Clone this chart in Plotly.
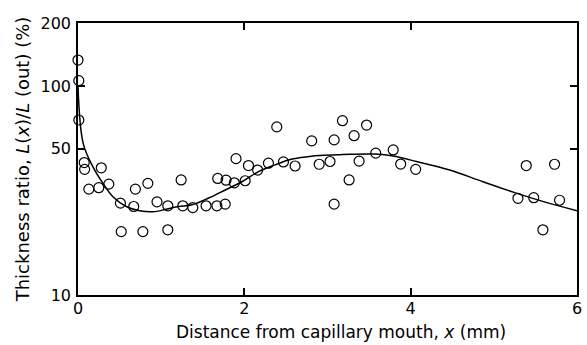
import plotly.graph_objects as go

# Measured points (x in mm, thickness ratio in %)
pts_x = [0.0, 0.01, 0.01, -0.01, 0.075, 0.08, 0.13, 0.25, 0.28, 0.37, 0.51, 0.52,
         0.67, 0.69, 0.78, 0.84, 0.95, 1.08, 1.08, 1.24, 1.26, 1.38, 1.54, 1.67,
         1.77, 1.68, 1.78, 1.88, 1.90, 2.01, 2.05, 2.16, 2.29, 2.39, 2.47, 2.61,
         2.81, 2.90, 3.03, 3.08, 3.08, 3.18, 3.26, 3.32, 3.38, 3.47, 3.58, 3.79,
         3.88, 4.06, 5.29, 5.39, 5.48, 5.59, 5.73, 5.79]
pts_y = [133, 106, 68.7, 60.4, 43.0, 39.9, 32.1, 32.6, 40.6, 33.9, 27.5, 20.1,
         26.5, 32.1, 20.1, 34.2, 27.9, 26.7, 20.5, 35.5, 26.7, 26.2, 26.7, 26.7,
         27.2, 36.1, 35.4, 34.4, 44.9, 35.2, 41.6, 39.6, 42.7, 63.7, 43.3, 41.4,
         54.6, 42.2, 43.5, 55.2, 27.2, 68.2, 35.5, 57.8, 43.7, 65.0, 47.7, 49.4,
         42.3, 39.9, 29.0, 41.6, 29.2, 20.5, 42.2, 28.4]

# Fitted curve
fit_x = [0.0, 0.063, 0.18, 0.30, 0.42, 0.58, 0.74, 0.90, 1.06, 1.21, 1.37, 1.57,
         1.77, 1.97, 2.17, 2.37, 2.56, 2.76, 2.96, 3.12, 3.28, 3.58, 3.79, 4.07,
         4.47, 4.87, 5.26, 5.66, 6.0]
fit_y = [99, 53, 41, 34.2, 29.5, 26.5, 25.3, 25.0, 25.7, 26.5, 27.0, 29.1,
         31.8, 34.8, 38.9, 41.9, 44.6, 45.9, 46.6, 46.8, 47.1, 47.2, 46.2, 43.5,
         39.6, 34.8, 30.8, 27.5, 25.3]

x_ticks = [0, 2, 4, 6]
y_ticks = [10, 50, 100, 200]

x_title = "Distance from capillary mouth, <i>x</i> (mm)"
y_title = "Thickness ratio, <i>L</i>(<i>x</i>)/<i>L</i> (out) (%)"

font_main = "DejaVu Sans"

fig = go.Figure()
fig.add_trace(go.Scatter(x=fit_x, y=fit_y, mode="lines", line=dict(color="black", width=1.5, shape="spline", smoothing=1.0), hoverinfo="skip"))
fig.add_trace(go.Scatter(x=pts_x, y=pts_y, mode="markers",
                         marker=dict(symbol="circle-open", size=10, color="black", line=dict(width=1.2)),
                         cliponaxis=False))

fig.update_layout(
    width=587, height=345,
    margin=dict(l=78, r=5, t=23, b=50),
    paper_bgcolor="white", plot_bgcolor="white",
    showlegend=False,
    font=dict(family=font_main, size=16, color="black"),
)
fig.add_annotation(text=x_title, xref="paper", yref="paper", x=0.528, y=-0.136,
                   xanchor="center", yanchor="middle", showarrow=False, font=dict(size=17))
fig.update_xaxes(
    range=[0, 6], tickvals=x_ticks, ticktext=[str(v) for v in x_ticks],
    ticks="inside", ticklen=7, tickwidth=1.5, tickcolor="black",
    showline=True, linecolor="black", linewidth=1.5, mirror="allticks",
    showgrid=False, zeroline=False, ticklabelstandoff=-2,
    tickfont=dict(size=16),
)
fig.update_yaxes(
    type="log", range=[1, 2.30103], tickvals=y_ticks, ticktext=[str(v) for v in y_ticks],
    ticks="inside", ticklen=7, tickwidth=1.5, tickcolor="black",
    showline=True, linecolor="black", linewidth=1.5, mirror="allticks",
    showgrid=False, zeroline=False, ticklabelstandoff=2,
    title=dict(text=y_title, standoff=6, font=dict(size=18)),
    tickfont=dict(size=16),
)

fig.write_html("out.html")
